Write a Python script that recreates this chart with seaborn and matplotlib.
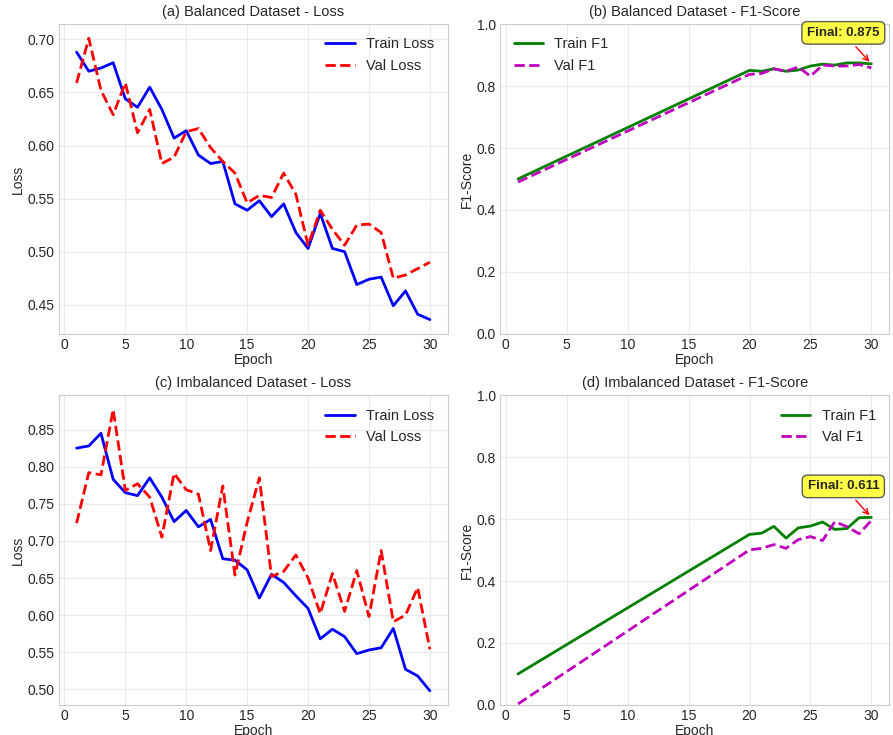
import matplotlib
matplotlib.use("Agg")
import matplotlib.pyplot as plt
import seaborn as sns

sns.set_style("whitegrid")
plt.rcParams['font.family'] = ['Liberation Sans', 'DejaVu Sans']

epochs = list(range(1, 31))
# F1 was only logged at epoch 1 and then from epoch 20 onwards
f1_epochs = [1, 20, 21, 22, 23, 24, 25, 26, 27, 28, 29, 30]

bal_train_loss = [0.688, 0.670, 0.673, 0.678, 0.644, 0.636, 0.655, 0.634, 0.607, 0.614,
                  0.591, 0.583, 0.585, 0.545, 0.539, 0.548, 0.533, 0.545, 0.518, 0.503,
                  0.536, 0.503, 0.500, 0.469, 0.474, 0.476, 0.449, 0.463, 0.441, 0.436]
bal_val_loss = [0.659, 0.701, 0.652, 0.629, 0.659, 0.612, 0.634, 0.583, 0.589, 0.613,
                0.616, 0.598, 0.585, 0.574, 0.546, 0.553, 0.551, 0.574, 0.554, 0.506,
                0.539, 0.521, 0.506, 0.525, 0.526, 0.518, 0.475, 0.478, 0.484, 0.490]

bal_train_f1 = [0.500, 0.851, 0.848, 0.856, 0.848, 0.852, 0.865, 0.871, 0.868, 0.875, 0.875, 0.872]
bal_val_f1 = [0.490, 0.838, 0.841, 0.856, 0.848, 0.862, 0.832, 0.868, 0.865, 0.865, 0.870, 0.859]

imb_train_loss = [0.825, 0.828, 0.845, 0.783, 0.765, 0.761, 0.785, 0.759, 0.726, 0.741,
                  0.719, 0.729, 0.676, 0.674, 0.661, 0.623, 0.655, 0.644, 0.626, 0.609,
                  0.568, 0.581, 0.571, 0.548, 0.553, 0.556, 0.582, 0.527, 0.518, 0.498]
imb_val_loss = [0.724, 0.792, 0.789, 0.877, 0.768, 0.777, 0.759, 0.705, 0.791, 0.769,
                0.763, 0.687, 0.774, 0.654, 0.725, 0.785, 0.652, 0.659, 0.681, 0.650,
                0.602, 0.656, 0.605, 0.660, 0.598, 0.687, 0.591, 0.600, 0.637, 0.554]

imb_train_f1 = [0.100, 0.551, 0.555, 0.577, 0.539, 0.572, 0.578, 0.591, 0.567, 0.570, 0.605, 0.606]
imb_val_f1 = [0.003, 0.501, 0.506, 0.518, 0.506, 0.534, 0.544, 0.531, 0.592, 0.576, 0.553, 0.596]

final_labels = ["Final: 0.875", "Final: 0.611"]

titles = ["(a) Balanced Dataset - Loss", "(b) Balanced Dataset - F1-Score",
          "(c) Imbalanced Dataset - Loss", "(d) Imbalanced Dataset - F1-Score"]

fig, axes = plt.subplots(2, 2, figsize=(8.93, 7.35), dpi=100)
plt.subplots_adjust(left=0.066, right=0.9955, bottom=0.041, top=0.967, wspace=0.136, hspace=0.2)


def plot_loss(ax, train, val, title):
    sns.lineplot(x=epochs, y=train, ax=ax, color='b', linewidth=2, label='Train Loss')
    sns.lineplot(x=epochs, y=val, ax=ax, color='r', linewidth=2, linestyle='--', label='Val Loss')
    ax.set_title(title, fontsize=10.5, color='.15')
    ax.set_xlabel("Epoch", fontsize=10, labelpad=1)
    ax.set_ylabel("Loss", fontsize=10, labelpad=2)
    ax.legend(loc='upper right', frameon=False, fontsize=10.5)


def plot_f1(ax, train, val, title, label, legend_loc):
    sns.lineplot(x=f1_epochs, y=train, ax=ax, color='g', linewidth=2, label='Train F1')
    sns.lineplot(x=f1_epochs, y=val, ax=ax, color='m', linewidth=2, linestyle='--', label='Val F1')
    ax.set_title(title, fontsize=10.5, color='.15')
    ax.set_xlabel("Epoch", fontsize=10, labelpad=1)
    ax.set_ylabel("F1-Score", fontsize=10, labelpad=2)
    ax.set_ylim(0, 1.0)
    ax.legend(loc=legend_loc, frameon=False, fontsize=10.5)
    ax.annotate(label, xy=(f1_epochs[-1], train[-1]), xytext=(-28, 31),
                textcoords='offset pixels', ha='center', va='center',
                fontsize=9.5, fontweight='bold',
                bbox=dict(boxstyle='round,pad=0.4', fc='#ffff33', ec='.3', alpha=0.9),
                arrowprops=dict(arrowstyle='->', color='red', lw=1))


plot_loss(axes[0, 0], bal_train_loss, bal_val_loss, titles[0])
plot_f1(axes[0, 1], bal_train_f1, bal_val_f1, titles[1], final_labels[0], 'upper left')
plot_loss(axes[1, 0], imb_train_loss, imb_val_loss, titles[2])
plot_f1(axes[1, 1], imb_train_f1, imb_val_f1, titles[3], final_labels[1], 'upper right')

for ax in axes.flat:
    ax.set_xticks([0, 5, 10, 15, 20, 25, 30])
    ax.grid(True, color='.92', linewidth=0.8)
    ax.tick_params(labelsize=10, length=0, pad=3)
    for s in ax.spines.values():
        s.set_color('.8')

fig.savefig("out.png", dpi=100)
